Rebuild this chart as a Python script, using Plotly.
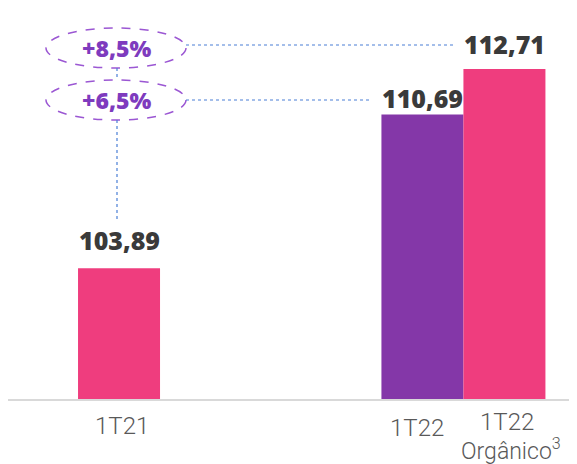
import plotly.graph_objects as go

# ---- data ----
categories = ["1T21", "1T22", "1T22 Orgânico"]
values = [103.89, 110.69, 112.71]
value_labels = ["103,89", "110,69", "112,71"]
tick_labels = ["1T21", "1T22", "1T22<br>Orgânico<sup>3</sup>"]
growth_labels = ["+8,5%", "+6,5%"]

# ---- layout / style (not data) ----
OFF = 8                     # page body margin
W, H = 577 - OFF, 464 - OFF
BASE_PX = 400               # baseline y in window pixels
PLOT_H = BASE_PX - OFF
x_pos = [0.0, 3.7, 4.7]
bar_colors = ["#EF3D7E", "#8437A8", "#EF3D7E"]
label_shift = [28, 17, 25]

def px(x):
    return (x - OFF) / W

def py(y):
    return (BASE_PX - y) / PLOT_H

fig = go.Figure()
fig.add_trace(go.Bar(
    x=x_pos, y=values, width=1.0,
    marker=dict(color=bar_colors, line=dict(width=0)),
    hoverinfo="skip",
))

annotations = []
for xp, v, t, s in zip(x_pos, values, value_labels, label_shift):
    annotations.append(dict(
        x=xp, y=v, xref="x", yref="y", text=t, showarrow=False,
        xanchor="center", yanchor="middle", yshift=s,
        font=dict(family="Open Sans", size=25, color="#3a3a3a", weight=800),
    ))

tick_font = dict(family="Roboto", size=24, color="#595959", weight=300)
cat_label_pos = [(122, 426), (417, 428), (509, 437)]
for (cx, cy), t in zip(cat_label_pos, tick_labels):
    if "<br>" in t:
        first, second = t.split("<br>")
        annotations.append(dict(x=px(cx - 2), y=py(422), xref="paper", yref="paper",
                                text=first, showarrow=False, xanchor="center", yanchor="middle",
                                font=tick_font))
        annotations.append(dict(x=px(cx + 2), y=py(449), xref="paper", yref="paper",
                                text=second, showarrow=False, xanchor="center", yanchor="middle",
                                font=dict(tick_font, size=23)))
    else:
        annotations.append(dict(x=px(cx), y=py(cy), xref="paper", yref="paper",
                                text=t, showarrow=False, xanchor="center", yanchor="middle",
                                font=tick_font))

bubble_centers = [(116, 48), (116, 100)]
for (cx, cy), t in zip(bubble_centers, growth_labels):
    annotations.append(dict(x=px(cx + 1), y=py(cy), xref="paper", yref="paper",
                            text=t, showarrow=False, xanchor="center", yanchor="middle",
                            font=dict(family="Open Sans", size=23, color="#7E3BBE", weight=800)))

shapes = []
for (cx, cy) in bubble_centers:
    shapes.append(dict(type="circle", xref="paper", yref="paper",
                       x0=px(cx - 70), x1=px(cx + 70), y0=py(cy + 20), y1=py(cy - 20),
                       line=dict(color="#9B57D3", width=1.5, dash="dash")))

dot = dict(color="#4A7FD6", width=1.2, dash="dot")
shapes.append(dict(type="line", xref="paper", yref="paper",
                   x0=px(186), x1=px(454), y0=py(45), y1=py(45), line=dot))
shapes.append(dict(type="line", xref="paper", yref="paper",
                   x0=px(186), x1=px(370), y0=py(100), y1=py(100), line=dot))
shapes.append(dict(type="line", xref="paper", yref="paper",
                   x0=px(117), x1=px(117), y0=py(68), y1=py(80), line=dot))
shapes.append(dict(type="line", xref="paper", yref="paper",
                   x0=px(117), x1=px(117), y0=py(120), y1=py(222), line=dot))
shapes.append(dict(type="line", xref="paper", yref="paper",
                   x0=0, x1=1, y0=0, y1=0,
                   line=dict(color="#D9D9D9", width=2)))

fig.update_layout(
    width=W, height=H,
    margin=dict(l=0, r=0, t=0, b=H - PLOT_H, pad=0),
    plot_bgcolor="white", paper_bgcolor="white",
    showlegend=False,
    xaxis=dict(range=[-1.354, W / 82 - 1.354], visible=False, fixedrange=True),
    yaxis=dict(range=[98.06, 98.06 + PLOT_H / 22.6], visible=False, fixedrange=True),
    annotations=annotations,
    shapes=shapes,
)

fig.write_html("out.html", config={"displayModeBar": False})
